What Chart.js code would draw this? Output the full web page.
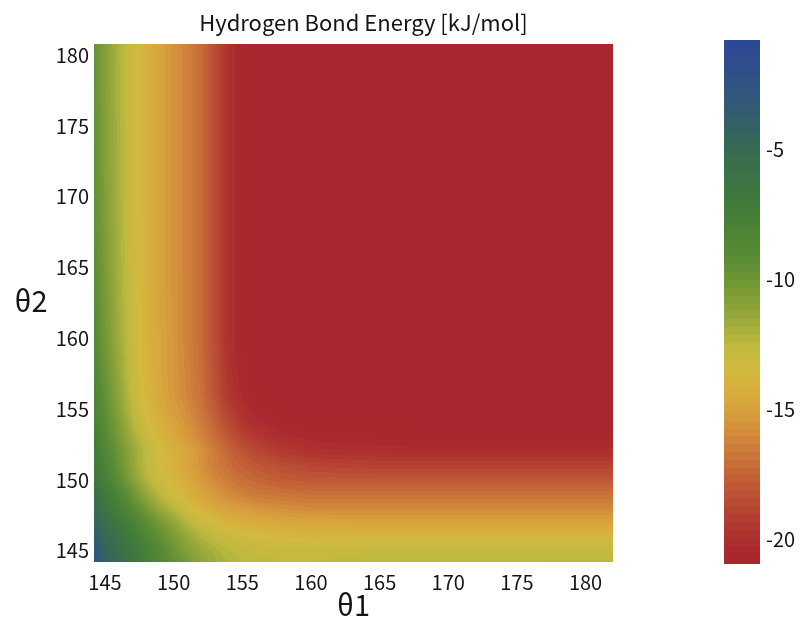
<!DOCTYPE html>
<html>
<head>
<meta charset="utf-8">
<title>Hydrogen Bond Energy</title>
<script src="https://cdn.jsdelivr.net/npm/chart.js@4.4.1/dist/chart.umd.min.js"></script>
<style>
  html, body { margin: 0; padding: 0; background: #fff; }
  #wrap { position: relative; width: 804px; height: 622px; }
  #map { position: absolute; left: 0; top: 0; }
  #bar { position: absolute; left: 700px; top: 0; }
</style>
</head>
<body>
<div id="wrap">
  <canvas id="map" width="804" height="622"></canvas>
  <canvas id="bar" width="104" height="622"></canvas>
</div>
<script>
// grid nodes (deg) - finer where the energy changes quickly
const theta1 = [144, 145, 146, 147, 148, 149, 150, 151, 152, 153, 154, 155, 156, 158, 160, 165, 170, 182];
const theta2 = [144, 145, 146, 147, 148, 149, 150, 151, 152, 153, 154, 155, 156, 158, 160, 165, 170, 181];

// energy (kJ/mol), one row per theta2 node from bottom to top, columns follow theta1
const energy = [
  [-1.2, -3.8, -5.2, -6.4, -7.4, -8.5, -9.4, -10.3, -11.1, -11.7, -12.1, -12.4, -12.6, -12.7, -12.7, -12.5, -12.4, -12.3],
  [-2.5, -4.4, -5.6, -6.7, -7.7, -8.9, -9.9, -10.8, -11.5, -12.0, -12.4, -12.6, -12.8, -12.9, -12.9, -12.8, -12.8, -12.8],
  [-3.4, -4.9, -6.0, -7.2, -8.3, -9.4, -10.5, -11.4, -12.2, -12.7, -13.1, -13.3, -13.5, -13.7, -13.8, -13.8, -13.8, -13.8],
  [-4.3, -5.6, -6.8, -7.9, -9.2, -10.4, -11.3, -12.3, -13.0, -13.5, -13.9, -14.2, -14.4, -14.7, -14.8, -14.9, -14.9, -14.9],
  [-5.0, -6.3, -7.6, -9.0, -10.3, -11.5, -12.4, -13.3, -14.0, -14.6, -15.1, -15.3, -15.5, -15.8, -16.0, -16.0, -16.0, -16.0],
  [-5.6, -6.9, -8.4, -9.9, -11.4, -12.5, -13.4, -14.1, -14.8, -15.4, -15.9, -16.3, -16.6, -16.9, -17.0, -17.0, -17.0, -17.0],
  [-6.3, -7.6, -9.3, -10.9, -12.2, -13.1, -13.8, -14.5, -15.3, -16.0, -16.6, -17.1, -17.4, -17.8, -18.0, -18.0, -18.0, -18.0],
  [-6.6, -8.0, -9.7, -11.3, -12.6, -13.4, -14.2, -14.9, -15.6, -16.4, -17.1, -17.6, -18.0, -18.5, -18.8, -19.0, -19.0, -19.0],
  [-6.8, -8.5, -10.0, -11.4, -12.5, -13.4, -14.2, -14.8, -15.6, -16.5, -17.4, -18.1, -18.7, -19.4, -19.8, -20.0, -20.1, -20.1],
  [-7.1, -8.8, -10.4, -11.8, -12.9, -13.8, -14.6, -15.3, -16.1, -17.1, -18.1, -18.9, -19.5, -20.1, -20.4, -20.6, -20.7, -20.7],
  [-7.4, -9.1, -10.7, -12.2, -13.3, -14.2, -14.9, -15.6, -16.5, -17.5, -18.6, -19.5, -20.1, -20.6, -20.8, -20.95, -21.0, -21.0],
  [-7.7, -9.4, -11.0, -12.5, -13.6, -14.5, -15.2, -15.9, -16.8, -17.9, -19.1, -20.0, -20.5, -20.9, -21.0, -21.0, -21.0, -21.0],
  [-7.9, -9.6, -11.2, -12.7, -13.8, -14.7, -15.4, -16.1, -17.0, -18.2, -19.5, -20.3, -20.8, -21.0, -21.0, -21.0, -21.0, -21.0],
  [-8.2, -9.9, -11.5, -12.9, -13.9, -14.8, -15.5, -16.2, -17.1, -18.4, -19.8, -20.6, -21.0, -21.0, -21.0, -21.0, -21.0, -21.0],
  [-8.5, -10.2, -11.7, -13.0, -14.0, -14.8, -15.5, -16.3, -17.2, -18.5, -19.9, -20.7, -21.0, -21.0, -21.0, -21.0, -21.0, -21.0],
  [-8.9, -10.5, -11.9, -13.1, -14.1, -14.9, -15.6, -16.3, -17.2, -18.5, -19.9, -20.7, -21.0, -21.0, -21.0, -21.0, -21.0, -21.0],
  [-9.2, -10.7, -12.0, -13.2, -14.1, -14.9, -15.6, -16.3, -17.2, -18.5, -19.9, -20.7, -21.0, -21.0, -21.0, -21.0, -21.0, -21.0],
  [-9.5, -10.9, -12.1, -13.2, -14.1, -14.9, -15.6, -16.3, -17.2, -18.5, -19.9, -20.7, -21.0, -21.0, -21.0, -21.0, -21.0, -21.0]
];

const xTicks = [145, 150, 155, 160, 165, 170, 175, 180];
const yTicks = [145, 150, 155, 160, 165, 170, 175, 180];
const barTicks = [-5, -10, -15, -20];

// colour map stops, low energy (red) to high energy (blue)
const cmapValues = [-21, -20.3, -19.5, -18.5, -17.5, -16.5, -15.5, -14.5, -13.5, -12.5, -11.5, -10, -9, -7, -5, -3, -0.8];
const cmapColors = ['#a8262d', '#aa2a2e', '#b03830', '#ba4c34', '#c46437', '#cd7c3a', '#d6973c', '#d8ab3d', '#d2b93f', '#bdb93f', '#98a83a', '#6c9535', '#578a34', '#3f7a3b', '#366a52', '#31577c', '#2d4797'];
const bandStep = 0.3;

const FONT = '"Noto Sans CJK JP", "Noto Sans", sans-serif';
const TEXT = '#151515';

const stopRgb = cmapColors.map(h => [parseInt(h.slice(1, 3), 16), parseInt(h.slice(3, 5), 16), parseInt(h.slice(5, 7), 16)]);

function colorFor(v) {
  v = Math.round(v / bandStep) * bandStep;
  if (v <= cmapValues[0]) return stopRgb[0];
  const n = cmapValues.length - 1;
  if (v >= cmapValues[n]) return stopRgb[n];
  let i = 0;
  while (v > cmapValues[i + 1]) i++;
  const f = (v - cmapValues[i]) / (cmapValues[i + 1] - cmapValues[i]);
  const a = stopRgb[i], b = stopRgb[i + 1];
  return [a[0] + (b[0] - a[0]) * f, a[1] + (b[1] - a[1]) * f, a[2] + (b[2] - a[2]) * f];
}

function locate(nodes, t) {
  let i = 0;
  while (i < nodes.length - 2 && t > nodes[i + 1]) i++;
  const f = Math.min(1, Math.max(0, (t - nodes[i]) / (nodes[i + 1] - nodes[i])));
  return [i, f];
}

// bilinear shading between grid nodes
function energyAt(t1, t2) {
  const [i, fx] = locate(theta1, t1);
  const [j, fy] = locate(theta2, t2);
  const lo = energy[j][i] * (1 - fx) + energy[j][i + 1] * fx;
  const hi = energy[j + 1][i] * (1 - fx) + energy[j + 1][i + 1] * fx;
  return lo * (1 - fy) + hi * fy;
}

const heatmapPlugin = {
  id: 'heatmap',
  beforeDatasetsDraw(chart) {
    const { ctx, chartArea: a, scales: { x, y } } = chart;
    const left = Math.round(a.left), top = Math.round(a.top);
    const w = Math.round(a.right) - left, h = Math.round(a.bottom) - top;
    const img = ctx.createImageData(w, h);
    for (let py = 0; py < h; py++) {
      const t2 = y.getValueForPixel(top + py + 0.5);
      for (let px = 0; px < w; px++) {
        const t1 = x.getValueForPixel(left + px + 0.5);
        const c = colorFor(energyAt(t1, t2));
        const k = (py * w + px) * 4;
        img.data[k] = c[0];
        img.data[k + 1] = c[1];
        img.data[k + 2] = c[2];
        img.data[k + 3] = 255;
      }
    }
    ctx.putImageData(img, left, top);
  }
};

// chart title and the upright theta2 label
const labelsPlugin = {
  id: 'labels',
  afterDraw(chart) {
    const { ctx, chartArea: a } = chart;
    ctx.save();
    ctx.fillStyle = TEXT;
    ctx.textAlign = 'center';
    ctx.textBaseline = 'middle';
    ctx.font = '22px ' + FONT;
    ctx.fillText('Hydrogen Bond Energy [kJ/mol]', (a.left + a.right) / 2 + 10, 23);
    ctx.font = '29px ' + FONT;
    ctx.fillText('θ2', 31, 301);
    ctx.restore();
  }
};

const colorbarPlugin = {
  id: 'colorbar',
  beforeDatasetsDraw(chart) {
    const { ctx, chartArea: a, scales: { y } } = chart;
    for (let py = Math.round(a.top); py < Math.round(a.bottom); py++) {
      const c = colorFor(y.getValueForPixel(py + 0.5));
      ctx.fillStyle = 'rgb(' + c.map(Math.round).join(',') + ')';
      ctx.fillRect(a.left, py, a.right - a.left, 1);
    }
  }
};

const tickFont = { family: FONT, size: 20 };

new Chart(document.getElementById('map'), {
  type: 'scatter',
  data: { datasets: [] },
  options: {
    responsive: false,
    animation: false,
    layout: { padding: { left: 0, top: 44, right: 191, bottom: 0 } },
    plugins: { legend: { display: false }, tooltip: { enabled: false } },
    scales: {
      x: {
        min: 144.2,
        max: 182.0,
        grid: { display: false, drawTicks: false },
        border: { display: false },
        ticks: { padding: 8, font: tickFont, color: TEXT },
        afterBuildTicks: s => { s.ticks = xTicks.map(v => ({ value: v })); },
        afterFit: s => { s.height = 60; },
        title: { display: true, text: 'θ1', font: { family: FONT, size: 29 }, color: TEXT, padding: 0 }
      },
      y: {
        min: 144.2,
        max: 180.8,
        grid: { display: false, drawTicks: false },
        border: { display: false },
        ticks: { padding: 5, font: tickFont, color: TEXT },
        afterBuildTicks: s => { s.ticks = yTicks.map(v => ({ value: v })); },
        afterFit: s => { s.width = 94; }
      }
    }
  },
  plugins: [heatmapPlugin, labelsPlugin]
});

new Chart(document.getElementById('bar'), {
  type: 'scatter',
  data: { datasets: [] },
  options: {
    responsive: false,
    animation: false,
    layout: { padding: { left: 24, top: 40, right: 0, bottom: 58 } },
    plugins: { legend: { display: false }, tooltip: { enabled: false } },
    scales: {
      x: { display: false },
      y: {
        position: 'right',
        min: -20.96,
        max: -0.81,
        grid: { display: false, drawTicks: false },
        border: { display: false },
        ticks: { padding: 6, font: tickFont, color: TEXT },
        afterBuildTicks: s => { s.ticks = barTicks.map(v => ({ value: v })); },
        afterFit: s => { s.width = 44; }
      }
    }
  },
  plugins: [colorbarPlugin]
});
</script>
</body>
</html>
